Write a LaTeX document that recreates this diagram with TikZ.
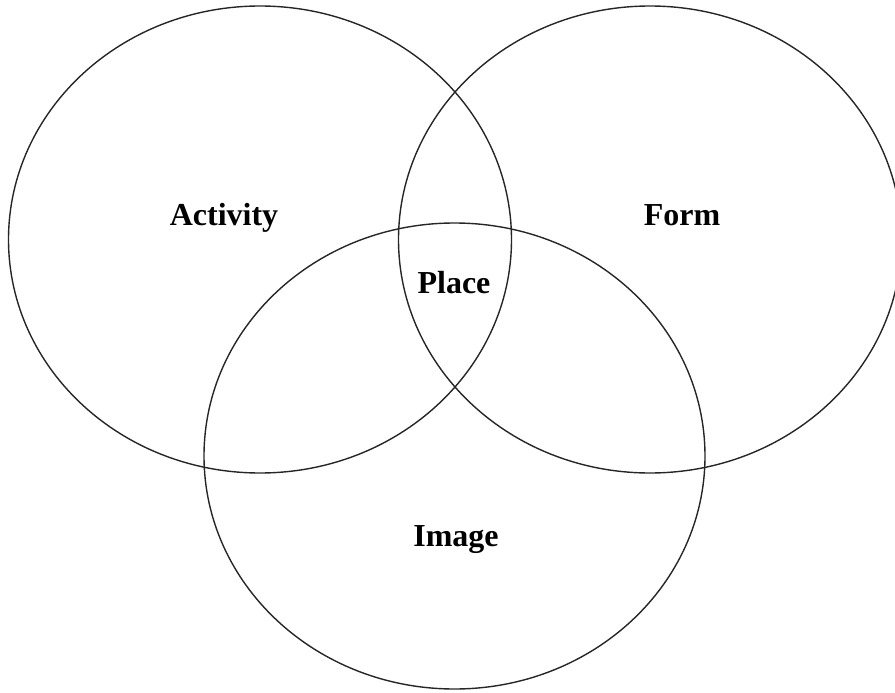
\documentclass[tikz,border=0pt]{standalone}
\usepackage{fontspec}
\setmainfont{Liberation Serif}
\usetikzlibrary{shapes.geometric}

\begin{document}
\begin{tikzpicture}[x=1pt,y=-1pt]
\tikzset{
  vennset/.style={ellipse,draw=black!85,line width=1.4pt,inner sep=0pt,outer sep=0pt},
  vennlabel/.style={anchor=base,inner sep=0pt,font=\fontsize{32}{38}\selectfont\bfseries}
}
\useasboundingbox (0,0) rectangle (895,693);
\node[vennset,minimum width=503pt,minimum height=467pt] (s_activity) at (260,239.5) {};
\node[vennset,minimum width=503pt,minimum height=467pt] (s_form) at (650,239.5) {};
\node[vennset,minimum width=501pt,minimum height=466pt] (s_image) at (454.5,456) {};
\node[vennlabel] (l_activity) at (224,225) {Activity};
\node[vennlabel] (l_form) at (682,225) {Form};
\node[vennlabel] (l_place) at (454,293) {Place};
\node[vennlabel] (l_image) at (456,546) {Image};
\end{tikzpicture}
\end{document}
